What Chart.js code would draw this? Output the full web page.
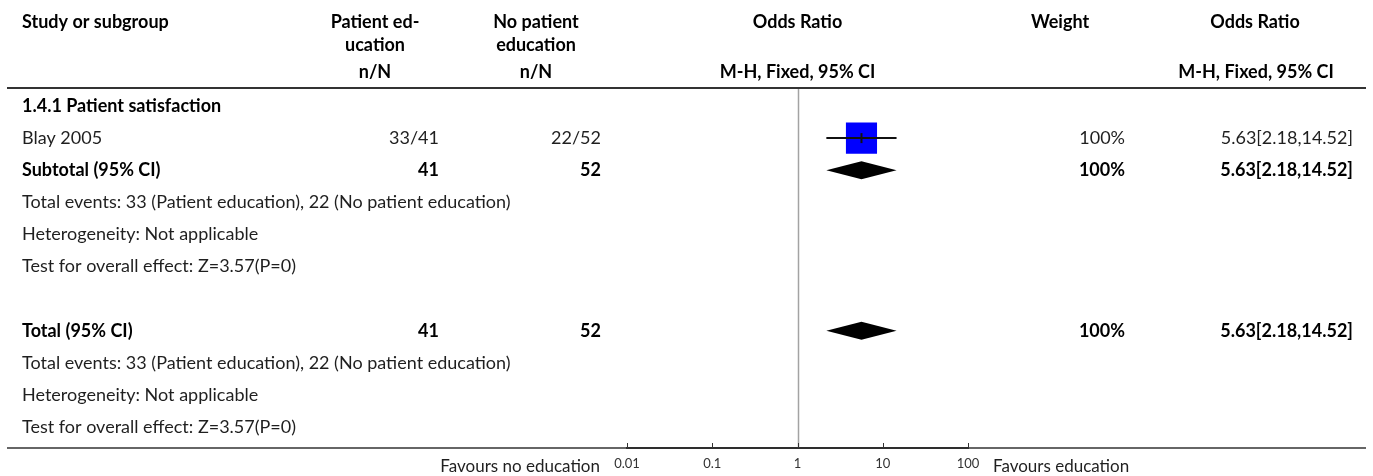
<!DOCTYPE html>
<html>
<head>
<meta charset="utf-8">
<script src="https://cdn.jsdelivr.net/npm/chart.js@4.4.1/dist/chart.umd.min.js"></script>
<style>
  html, body { margin: 0; padding: 0; background: #fff; }
  canvas { display: block; }
</style>
</head>
<body>
<canvas id="forest" width="1373" height="476"></canvas>
<script>
// table rows, top to bottom (row index = y value)
const rowLabels = [
    '1.4.1 Patient satisfaction',
    'Blay 2005',
    'Subtotal (95% CI)',
    'Total events: 33 (Patient education), 22 (No patient education)',
    'Heterogeneity: Not applicable',
    'Test for overall effect: Z=3.57(P=0)',
    '',
    'Total (95% CI)',
    'Total events: 33 (Patient education), 22 (No patient education)',
    'Heterogeneity: Not applicable',
    'Test for overall effect: Z=3.57(P=0)',
];
const rowBold = [true, false, true, false, false, false, false, true, false, false, false];
const educationCol = ['', '33/41', '41', '', '', '', '', '41', '', '', ''];
const noEducationCol = ['', '22/52', '52', '', '', '', '', '52', '', '', ''];
const weightCol = ['', '100%', '100%', '', '', '', '', '100%', '', '', ''];
const oddsRatioCol = ['', '5.63[2.18,14.52]', '5.63[2.18,14.52]', '', '', '', '', '5.63[2.18,14.52]', '', '', ''];

// individual studies
const studyRows = [1];
const studyOR = [5.63];
const studyLow = [2.18];
const studyHigh = [14.52];
const studyWeight = [100];

// pooled estimates (diamonds)
const pooledRows = [2, 7];
const pooledOR = [5.63, 5.63];
const pooledLow = [2.18, 2.18];
const pooledHigh = [14.52, 14.52];

const xTicks = [0.01, 0.1, 1, 10, 100];

const FONT = 'Lato, "Liberation Sans", sans-serif';
const TEXT = '#1f1f1f';

/**
 * Draws the table text, rules and the diamonds around the plot
 */
const forestPlugin = {
    id: 'forest',
    beforeDatasetsDraw(chart) {
        const { ctx, chartArea, scales } = chart;
        const x = scales.x, y = scales.y;
        ctx.save();

        // line of no effect
        const cx = Math.round(x.getPixelForValue(1)) + 0.5;
        ctx.strokeStyle = '#a3a3a3';
        ctx.lineWidth = 1.5;
        ctx.beginPath();
        ctx.moveTo(cx, chartArea.top);
        ctx.lineTo(cx, chartArea.bottom);
        ctx.stroke();

        // pooled diamonds
        ctx.fillStyle = '#000';
        pooledRows.forEach((r, i) => {
            const py = y.getPixelForValue(r);
            const xl = x.getPixelForValue(pooledLow[i]);
            const xm = x.getPixelForValue(pooledOR[i]);
            const xh = x.getPixelForValue(pooledHigh[i]);
            ctx.beginPath();
            ctx.moveTo(xl, py);
            ctx.lineTo(xm, py - 9);
            ctx.lineTo(xh, py);
            ctx.lineTo(xm, py + 9);
            ctx.closePath();
            ctx.fill();
        });
        ctx.restore();
    },
    afterDraw(chart) {
        const { ctx, chartArea, scales } = chart;
        const x = scales.x, y = scales.y;
        ctx.save();

        // rules
        ctx.strokeStyle = '#333';
        ctx.lineWidth = 2;
        ctx.beginPath();
        ctx.moveTo(7, 88);
        ctx.lineTo(1366, 88);
        ctx.stroke();
        ctx.lineWidth = 1.5;
        ctx.beginPath();
        ctx.moveTo(7, chartArea.bottom);
        ctx.lineTo(1366, chartArea.bottom);
        ctx.stroke();

        // tick marks pointing up
        ctx.lineWidth = 1;
        ctx.strokeStyle = '#333';
        x.ticks.forEach(t => {
            const px = Math.round(x.getPixelForValue(t.value)) + 0.5;
            ctx.beginPath();
            ctx.moveTo(px, chartArea.bottom);
            ctx.lineTo(px, chartArea.bottom - 5);
            ctx.stroke();
        });

        ctx.textBaseline = 'middle';
        const put = (txt, px, py, align, bold, size) => {
            ctx.font = (bold ? 'bold ' : '') + (size || 18) + 'px ' + FONT;
            ctx.fillStyle = bold ? '#000' : TEXT;
            ctx.textAlign = align;
            ctx.fillText(txt, px, py);
        };

        // header
        const cx = x.getPixelForValue(1);
        put('Study or subgroup', 22, 22, 'left', true);
        put('Patient ed-', 375, 22, 'center', true);
        put('ucation', 375, 45, 'center', true);
        put('n/N', 375, 72, 'center', true);
        put('No patient', 536, 22, 'center', true);
        put('education', 536, 45, 'center', true);
        put('n/N', 536, 72, 'center', true);
        put('Odds Ratio', cx, 22, 'center', true);
        put('M-H, Fixed, 95% CI', cx, 72, 'center', true);
        put('Weight', 1060, 22, 'center', true);
        put('Odds Ratio', 1255, 22, 'center', true);
        put('M-H, Fixed, 95% CI', 1256, 72, 'center', true);

        // body rows
        rowLabels.forEach((label, i) => {
            const py = y.getPixelForValue(i);
            const b = rowBold[i];
            if (label) put(label, 22, py, 'left', b);
            if (educationCol[i]) put(educationCol[i], 439, py, 'right', b);
            if (noEducationCol[i]) put(noEducationCol[i], 601, py, 'right', b);
            if (weightCol[i]) put(weightCol[i], 1125, py, 'right', b);
            if (oddsRatioCol[i]) put(oddsRatioCol[i], 1353, py, 'right', b);
        });

        // favours labels
        put('Favours no education', 600, 467, 'right', false, 17);
        put('Favours education', 993, 467, 'left', false, 17);
        ctx.restore();
    },
};

const ctx = document.getElementById('forest');

new Chart(ctx, {
    type: 'scatter',
    data: {
        datasets: [
            {
                // confidence intervals
                data: studyRows.flatMap((r, i) => [
                    { x: studyLow[i], y: r },
                    { x: studyHigh[i], y: r },
                    { x: null, y: null },
                ]),
                showLine: true,
                spanGaps: false,
                borderColor: '#111',
                borderWidth: 2,
                pointRadius: 0,
            },
            {
                // point estimate tick
                data: studyRows.map((r, i) => ({ x: studyOR[i], y: r })),
                pointStyle: 'line',
                rotation: 90,
                pointRadius: 5,
                borderColor: '#111',
                borderWidth: 2,
            },
            {
                // weighted squares
                data: studyRows.map((r, i) => ({ x: studyOR[i], y: r })),
                pointStyle: 'rect',
                pointRadius: studyWeight.map(w => 22 * Math.sqrt(w / 100)),
                backgroundColor: '#0000ff',
                borderWidth: 0,
            },
        ],
    },
    options: {
        responsive: false,
        animation: false,
        devicePixelRatio: 1,
        layout: {
            padding: { left: 627, right: 405, top: 88, bottom: 0 },
        },
        plugins: {
            legend: { display: false },
            tooltip: { enabled: false },
        },
        scales: {
            x: {
                type: 'logarithmic',
                position: 'bottom',
                min: 0.01,
                max: 100,
                afterBuildTicks: scale => {
                    scale.ticks = xTicks.map(v => ({ value: v }));
                },
                afterFit: scale => {
                    scale.height = 28;
                },
                grid: { display: false, drawTicks: false },
                border: { display: true, color: '#222', width: 2 },
                ticks: {
                    padding: 8,
                    autoSkip: false,
                    maxRotation: 0,
                    color: '#333',
                    font: { size: 13, family: FONT },
                    callback: v => String(v),
                },
            },
            y: {
                type: 'linear',
                display: false,
                reverse: true,
                min: -0.56,
                max: 10.65,
            },
        },
    },
    plugins: [forestPlugin],
});
</script>
</body>
</html>
